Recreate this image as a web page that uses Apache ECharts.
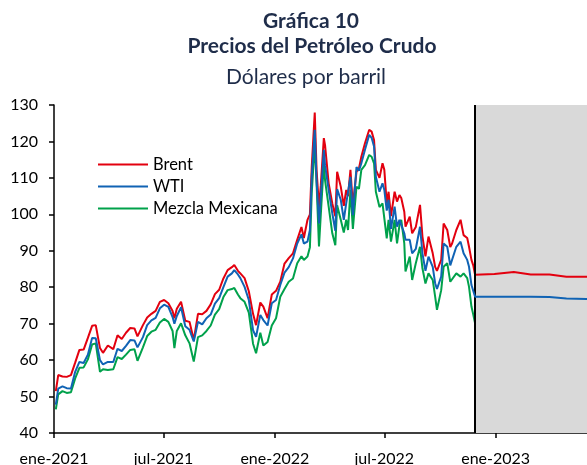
<!DOCTYPE html>
<html>
<head>
<meta charset="utf-8">
<script src="https://cdn.jsdelivr.net/npm/echarts@6/dist/echarts.min.js"></script>
<style>
  html, body { margin: 0; padding: 0; background: #fff; }
  #chart { width: 587px; height: 465px; }
</style>
</head>
<body>
<div id="chart"></div>
<script>
// precios diarios (muestreados) ene-2021 a nov-2022
var fechas = [
  '2021-01-04','2021-01-08','2021-01-15','2021-01-22','2021-01-29','2021-02-05','2021-02-12','2021-02-19','2021-02-26',
  '2021-03-05','2021-03-11','2021-03-18','2021-03-23','2021-03-31','2021-04-09','2021-04-16','2021-04-23','2021-04-30',
  '2021-05-07','2021-05-14','2021-05-19','2021-05-28','2021-06-04','2021-06-11','2021-06-18','2021-06-25','2021-07-02',
  '2021-07-09','2021-07-16','2021-07-19','2021-07-23','2021-07-30','2021-08-06','2021-08-13','2021-08-20','2021-08-27',
  '2021-09-03','2021-09-10','2021-09-17','2021-09-24','2021-10-01','2021-10-08','2021-10-15','2021-10-22','2021-10-26',
  '2021-11-01','2021-11-05','2021-11-12','2021-11-19','2021-11-26','2021-12-01','2021-12-08','2021-12-13','2021-12-20',
  '2021-12-27','2022-01-03','2022-01-10','2022-01-17','2022-01-24','2022-01-31','2022-02-07','2022-02-14','2022-02-18',
  '2022-02-24','2022-02-28','2022-03-03','2022-03-08','2022-03-11','2022-03-15','2022-03-18','2022-03-23','2022-03-25',
  '2022-03-31','2022-04-06','2022-04-11','2022-04-14','2022-04-20','2022-04-25','2022-04-29','2022-05-02','2022-05-06',
  '2022-05-10','2022-05-16','2022-05-20','2022-05-24','2022-05-30','2022-06-06','2022-06-10','2022-06-14','2022-06-17',
  '2022-06-23','2022-06-28','2022-07-01','2022-07-05','2022-07-08','2022-07-12','2022-07-18','2022-07-22','2022-07-26',
  '2022-07-29','2022-08-03','2022-08-05','2022-08-12','2022-08-16','2022-08-22','2022-08-29','2022-09-02','2022-09-07',
  '2022-09-12','2022-09-19','2022-09-23','2022-09-26','2022-10-03','2022-10-07','2022-10-13','2022-10-18','2022-10-21',
  '2022-10-28','2022-11-04','2022-11-09','2022-11-15','2022-11-18','2022-11-22','2022-11-25','2022-11-28'
];
var brent = [
  51.5,55.9,55.5,55.4,55.9,59.3,62.8,62.9,66.1,
  69.4,69.6,63.3,62.0,64.0,63.0,66.8,65.8,67.5,
  68.8,68.7,66.5,69.6,71.7,72.7,73.5,76.0,76.5,
  75.6,73.5,71.5,74.1,76.0,70.8,70.5,65.5,72.7,
  72.6,73.5,75.3,78.1,79.3,82.4,84.7,85.5,86.1,
  84.5,83.8,82.5,78.9,72.7,69.6,75.8,74.7,71.5,
  78.0,79.0,81.5,86.5,88.0,89.3,93.0,96.5,93.5,
  98.5,100.0,113.0,127.9,112.2,102.0,108.0,120.9,119.0,
  108.5,103.0,99.5,111.7,107.6,102.3,106.7,105.0,112.2,
  102.5,111.7,112.5,115.8,119.5,123.2,122.7,120.4,112.2,
  110.0,114.0,112.2,103.0,106.2,99.5,106.2,103.5,105.3,
  104.5,100.7,96.6,99.4,94.8,96.5,102.6,93.9,88.5,
  93.9,89.3,85.6,84.5,87.5,97.5,95.7,91.0,92.0,
  95.7,98.5,94.3,93.5,91.1,87.5,86.0,83.4
];
var wti = [
  47.8,52.2,52.8,52.3,52.2,56.8,59.5,59.2,61.5,
  66.1,66.0,60.0,58.8,59.5,59.5,63.1,62.5,63.9,
  65.5,65.4,63.5,66.3,69.6,70.9,71.6,74.2,75.2,
  74.6,71.8,70.0,72.1,74.5,69.3,68.3,65.1,70.5,
  69.8,71.5,72.5,75.5,77.0,80.0,82.9,83.8,84.7,
  83.5,82.5,80.1,76.5,68.2,66.4,72.4,71.0,69.5,
  75.6,76.5,80.6,84.0,85.5,87.9,92.0,94.5,92.0,
  92.5,95.7,110.3,123.2,109.4,97.5,104.7,117.7,113.5,
  106.7,100.3,95.5,106.9,104.0,98.5,103.0,103.5,110.3,
  99.8,113.0,112.0,114.0,117.7,121.8,121.0,118.6,110.3,
  106.2,108.5,106.7,101.0,104.0,96.0,102.1,96.6,98.5,
  99.0,94.8,93.0,93.0,89.3,90.5,96.6,89.3,84.5,
  88.4,85.6,81.1,79.5,82.9,92.0,91.1,86.0,85.6,
  91.1,92.5,89.3,87.5,85.6,80.6,81.1,77.4
];
var mezcla = [
  46.5,50.6,51.5,51.0,51.2,55.0,57.9,58.0,60.2,
  64.3,64.6,56.8,57.5,57.3,57.5,60.8,60.3,61.5,
  62.8,63.0,59.8,63.5,66.6,67.8,68.3,70.3,71.3,
  70.5,68.0,63.3,68.0,70.1,66.8,64.6,59.6,66.3,
  66.8,68.0,69.5,72.5,74.0,77.3,79.2,79.5,79.8,
  78.0,77.0,76.0,73.0,64.5,61.9,67.5,64.0,65.0,
  69.5,71.5,77.4,79.5,81.5,82.4,86.6,88.5,87.5,
  88.4,91.0,105.8,119.5,108.5,91.2,100.0,114.0,109.4,
  102.1,94.8,91.5,102.5,98.5,95.0,98.5,95.7,106.7,
  96.0,107.6,107.0,112.2,113.5,116.3,115.8,114.0,106.2,
  102.0,103.0,102.6,93.4,98.5,92.5,98.5,92.0,97.0,
  98.5,92.0,84.3,88.4,82.0,86.6,91.1,85.2,81.0,
  83.8,82.0,77.4,73.8,79.2,85.6,86.6,81.5,81.1,
  83.8,82.9,83.8,82.5,80.1,74.7,72.5,70.1
];

// futuros (zona sombreada)
var fechasFut = ['2022-11-28','2022-12-30','2023-01-31','2023-02-28','2023-03-31','2023-04-28','2023-05-31','2023-06-30'];
var brentFut = [83.2, 83.6, 84.2, 83.5, 83.5, 82.9, 82.9, 82.9];
var wtiFut = [77.3, 77.4, 77.4, 77.4, 77.3, 76.9, 76.8, 76.8];

var inicioFut = '2022-11-28';
var ejeMin = '2021-01-01';
var ejeMax = '2023-06-01';
var ticksX = ['2021-01-01','2021-07-01','2022-01-01','2022-07-01','2023-01-01'];
var etiquetasX = ['ene-2021','jul-2021','ene-2022','jul-2022','ene-2023'];

function ts(d) {
  return +echarts.time.parse(d);
}
function pares(f, v) {
  return f.map(function (d, i) { return [ts(d), v[i]]; });
}

var tickVals = ticksX.map(ts);
var fuente = 'Lato';
var navy = '#1f2d4a';

var option = {
  animation: false,
  backgroundColor: '#fff',
  textStyle: { fontFamily: fuente },
  graphic: [
    { type: 'text', style: { x: 311, y: 21, text: 'Gráfica 10', textAlign: 'center', textVerticalAlign: 'middle', font: 'bold 21px ' + fuente, fill: navy } },
    { type: 'text', style: { x: 312, y: 46, text: 'Precios del Petróleo Crudo', textAlign: 'center', textVerticalAlign: 'middle', font: 'bold 21px ' + fuente, fill: navy } },
    { type: 'text', style: { x: 306, y: 77, text: 'Dólares por barril', textAlign: 'center', textVerticalAlign: 'middle', font: '21px ' + fuente, fill: navy } }
  ],
  legend: {
    orient: 'vertical',
    left: 93,
    top: 151,
    icon: 'rect',
    itemWidth: 50,
    itemHeight: 2,
    itemGap: 5,
    textStyle: { fontSize: 16.5, color: '#000', fontFamily: fuente },
    data: ['Brent', 'WTI', 'Mezcla Mexicana']
  },
  grid: { left: 54, right: 0, top: 105, bottom: 32, outerBoundsMode: 'none' },
  xAxis: {
    type: 'value',
    min: ts(ejeMin),
    max: ts(ejeMax),
    splitLine: { show: false },
    axisLine: { lineStyle: { color: '#000', width: 1.5 } },
    axisTick: { show: true, length: 5, customValues: tickVals, lineStyle: { color: '#000', width: 1.5 } },
    axisLabel: {
      customValues: tickVals,
      color: '#000',
      fontSize: 16,
      margin: 18,
      formatter: function (v) {
        var i = tickVals.indexOf(+v);
        return i >= 0 ? etiquetasX[i] : '';
      }
    }
  },
  yAxis: {
    type: 'value',
    min: 40,
    max: 130,
    interval: 10,
    splitLine: { show: false },
    axisLine: { show: true, lineStyle: { color: '#000', width: 1.5 } },
    axisTick: { show: true, length: 5, lineStyle: { color: '#000', width: 1.5 } },
    axisLabel: { color: '#000', fontSize: 16, margin: 16 }
  },
  series: [
    {
      name: 'sombra',
      type: 'line',
      data: [],
      markArea: {
        silent: true,
        itemStyle: { color: '#d9d9d9' },
        data: [[{ xAxis: ts(inicioFut) }, { xAxis: ts(ejeMax) }]]
      },
      markLine: {
        silent: true,
        symbol: 'none',
        label: { show: false },
        lineStyle: { color: '#000', width: 2, type: 'solid' },
        data: [{ xAxis: ts(inicioFut) }]
      }
    },
    {
      name: 'Brent',
      type: 'line',
      z: 4,
      showSymbol: false,
      color: '#e3000f',
      lineStyle: { width: 2 },
      data: pares(fechas, brent).concat(pares(fechasFut, brentFut))
    },
    {
      name: 'WTI',
      type: 'line',
      z: 5,
      showSymbol: false,
      color: '#1063b4',
      lineStyle: { width: 2 },
      data: pares(fechas, wti).concat(pares(fechasFut, wtiFut))
    },
    {
      name: 'Mezcla Mexicana',
      type: 'line',
      z: 3,
      showSymbol: false,
      color: '#00a14b',
      lineStyle: { width: 2 },
      data: pares(fechas, mezcla)
    }
  ]
};

echarts.init(document.getElementById('chart')).setOption(option);
</script>
</body>
</html>
